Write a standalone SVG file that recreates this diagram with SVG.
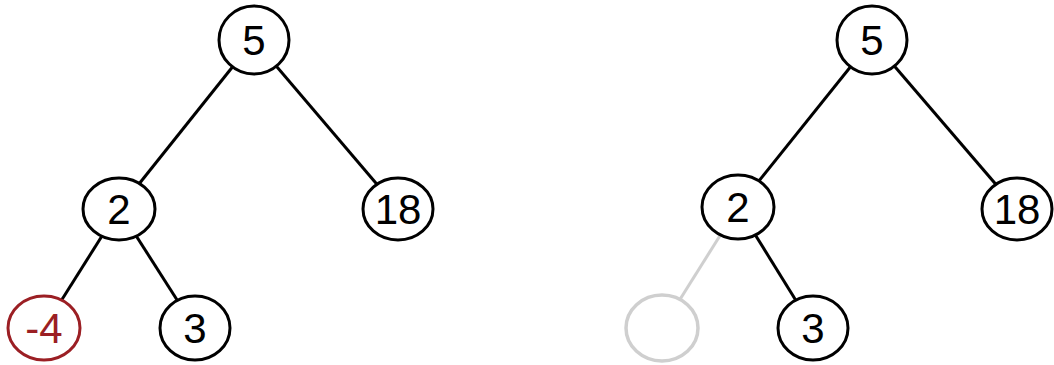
<svg xmlns="http://www.w3.org/2000/svg" width="1054" height="365" viewBox="0 0 1054 365">
<style>
.e{stroke:#000;stroke-width:3;fill:none}
.g{stroke:#cfcfcf;stroke-width:3;fill:none}
.n{fill:#fff;stroke:#000;stroke-width:3}
.r{fill:#fff;stroke:#9b1f24;stroke-width:3}
.ng{fill:#fff;stroke:#cfcfcf;stroke-width:3.5}
text{font-family:"Liberation Sans",Arial,sans-serif;font-size:42px;text-anchor:middle}
</style>
<rect width="1054" height="365" fill="#fff"/>
<g id="connectors">
<line class="e" x1="254" y1="40" x2="119" y2="209"/>
<line class="e" x1="254" y1="40" x2="398" y2="209"/>
<line class="e" x1="119" y1="209" x2="44" y2="328"/>
<line class="e" x1="119" y1="209" x2="195" y2="328"/>
<line class="e" x1="872" y1="40" x2="738" y2="207"/>
<line class="e" x1="872" y1="40" x2="1017" y2="209"/>
<line class="g" x1="738" y1="207" x2="662" y2="328"/>
<line class="e" x1="738" y1="207" x2="813" y2="328"/>
</g>
<g id="L5"><ellipse class="n" cx="254" cy="40" rx="35" ry="34"/><text x="254" y="55">5</text></g>
<g id="L2"><ellipse class="n" cx="119" cy="209" rx="36" ry="31"/><text x="119" y="224">2</text></g>
<g id="L18"><ellipse class="n" cx="398" cy="209" rx="35" ry="31"/><text x="398" y="224">18</text></g>
<g id="Lm4"><ellipse class="r" cx="44" cy="328" rx="36" ry="32"/><text x="44" y="343" fill="#9b1f24">-4</text></g>
<g id="L3"><ellipse class="n" cx="195" cy="328" rx="35" ry="32"/><text x="195" y="343">3</text></g>
<g id="R5"><ellipse class="n" cx="872" cy="40" rx="35" ry="34"/><text x="872" y="55">5</text></g>
<g id="R2"><ellipse class="n" cx="738" cy="207" rx="36" ry="32"/><text x="738" y="222">2</text></g>
<g id="R18"><ellipse class="n" cx="1017" cy="209" rx="35" ry="31"/><text x="1017" y="224">18</text></g>
<g id="Rempty"><ellipse class="ng" cx="662" cy="328" rx="36" ry="33"/></g>
<g id="R3"><ellipse class="n" cx="813" cy="328" rx="35" ry="32"/><text x="813" y="343">3</text></g>
</svg>
